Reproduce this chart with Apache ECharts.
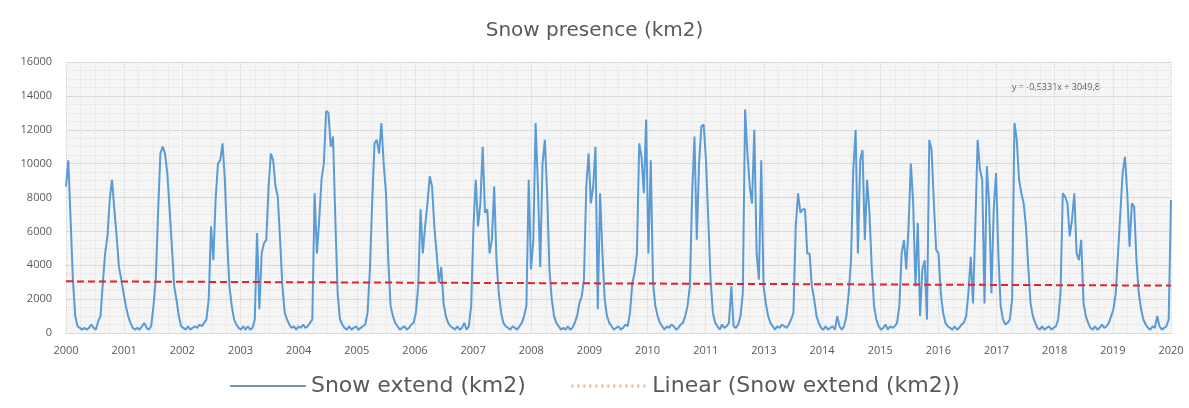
<!DOCTYPE html>
<html>
<head>
<meta charset="utf-8">
<script src="https://cdn.jsdelivr.net/npm/echarts@6/dist/echarts.min.js"></script>
<style>html,body{margin:0;padding:0;background:#fff}#c{width:1189px;height:408px}</style>
</head>
<body>
<div id="c"></div>
<script>
// Tick labels as printed on the original axis (2012 is absent there)
const tickLabels = ['2000','2001','2002','2003','2004','2005','2006','2007','2008','2009','2010','2011','2013','2014','2015','2016','2017','2018','2019','2020'];
// Snow extent readings, evenly sampled in time (24 samples per twentieth of the span)
const y2000 = [8650,10200,6700,3150,1000,400,300,200,300,200,300,500,300,200,700,1000,2950,4700,5700,7900,9050,7300,5700,3900];
const y2001 = [3150,2350,1600,1000,600,300,200,300,200,400,600,300,200,400,1600,3150,7100,10600,11000,10600,9450,7300,5100,2750];
const y2002 = [1950,1000,400,300,200,400,200,300,400,300,500,400,600,800,2000,6300,4300,7900,10000,10200,11200,9050,5500,2750];
const y2003 = [1600,800,500,300,200,400,200,400,200,300,800,5900,1400,4700,5300,5500,8650,10600,10200,8650,8050,5500,2750,1200];
const y2004 = [800,500,300,400,200,400,300,500,300,400,600,800,8250,4700,6700,9050,10000,13100,13000,11000,11600,6700,2350,800];
const y2005 = [500,300,200,400,200,300,400,200,300,400,500,1200,3750,7650,11200,11400,10600,12400,10000,8250,4300,1600,1000,600];
const y2006 = [400,200,300,400,200,300,500,600,1200,2750,7300,4700,6300,7650,9250,8650,6300,4700,2950,3900,1750,1000,600,400];
const y2007 = [300,200,400,200,300,600,200,400,1600,6300,9050,6300,7650,11000,7100,7300,4700,5500,8650,4300,2350,1200,600,400];
const y2008 = [300,200,400,300,200,400,600,1000,1600,9050,3750,5500,12400,8650,3900,10000,11400,8250,3750,2000,1000,600,400,200];
const y2009 = [300,200,400,200,300,600,1000,1750,2150,3150,8650,10600,7650,8650,11000,1400,8250,4700,2000,1000,600,400,200,300];
const y2010 = [400,200,300,500,400,1200,2950,3550,4700,11200,10400,8250,12600,4700,10200,2950,1600,1000,600,400,200,400,300,500];
const y2011 = [400,200,300,500,600,1000,1600,2750,8250,11600,5500,10000,12200,12300,10200,6700,3150,1200,600,400,200,500,300,400];
const y2012 = [600,2750,400,300,500,1000,2350,13200,10600,8650,7650,12000,4700,3150,10200,2750,1750,1000,600,400,200,400,300,500];
const y2013 = [400,300,500,800,1200,6300,8250,7100,7300,7300,4700,4700,2750,2000,1000,600,300,200,400,200,300,400,200,1000];
const y2014 = [400,200,400,1000,2350,4300,9650,12000,4700,10200,10800,5500,9050,7100,3900,1600,800,400,200,300,500,200,400,300];
const y2015 = [400,600,1600,4700,5500,3750,6300,10000,7650,2750,6500,1000,3750,4300,800,11400,10800,7650,4900,4700,2350,1200,600,400];
const y2016 = [300,200,400,200,300,500,600,1000,2350,4500,1750,6300,11400,9650,9050,1750,9850,7650,2350,7300,9450,4700,1600,800];
const y2017 = [500,600,800,2000,12400,11400,9050,8250,7650,6300,3900,1750,1000,600,300,200,400,200,300,400,200,300,400,800];
const y2018 = [2350,8250,8050,7650,5700,6700,8250,4700,4300,5500,1750,1000,600,300,200,400,200,300,500,300,400,600,1000,1400];
const y2019 = [2350,4700,7100,9450,10400,8250,5100,7650,7450,4300,2350,1400,800,500,300,200,400,300,1000,400,200,300,400,800];
const yEnd = [7850];
// Linear trend read at the start and end of the series
const trendValues = [3050, 2800];

const seriesName = 'Snow extend (km2)';
const trendName = 'Linear (Snow extend (km2))';

const allValues = [].concat(y2000,y2001,y2002,y2003,y2004,y2005,y2006,y2007,y2008,y2009,
  y2010,y2011,y2012,y2013,y2014,y2015,y2016,y2017,y2018,y2019,yEnd);
const nIntervals = tickLabels.length - 1;
const step = nIntervals / (allValues.length - 1);
const lineData = allValues.map((v, i) => [i * step, v]);
const trendData = [[0, trendValues[0]], [nIntervals, trendValues[1]]];

const chart = echarts.init(document.getElementById('c'), null, {renderer: 'canvas'});
const font = 'Open Sans, Noto Sans, sans-serif';
const bigFont = 'DejaVu Sans, Open Sans, sans-serif';
chart.setOption({
  animation: false,
  backgroundColor: '#ffffff',
  title: {
    text: 'Snow presence (km2)',
    left: 'center', top: 16,
    textStyle: {fontFamily: bigFont, fontSize: 20, fontWeight: 'normal', color: '#595959'}
  },
  legend: {
    bottom: 6, left: 'center',
    itemWidth: 76, itemHeight: 14, itemGap: 44,
    textStyle: {fontFamily: bigFont, fontSize: 22, color: '#595959'},
    data: [
      {name: seriesName, lineStyle: {color: '#4a6c95', width: 1.5}, itemStyle: {opacity: 0, color: 'transparent', borderWidth: 0}},
      {name: trendName, lineStyle: {color: '#f4b183', width: 3, type: [2, 4]}, itemStyle: {opacity: 0, color: 'transparent', borderWidth: 0}}
    ]
  },
  grid: {left: 66, right: 18, top: 62, bottom: 75, show: true, backgroundColor: '#f5f5f5', borderWidth: 0},
  xAxis: {
    type: 'value', min: 0, max: nIntervals, interval: 1,
    axisLine: {show: true, lineStyle: {color: '#d9d9d9'}},
    axisTick: {show: false},
    axisLabel: {
      fontFamily: font, fontSize: 11, color: '#595959', margin: 12,
      formatter: v => tickLabels[Math.round(v)]
    },
    splitLine: {show: true, lineStyle: {color: '#d4d4d4', type: 'dotted'}},
    minorTick: {show: false, splitNumber: 4},
    minorSplitLine: {show: true, lineStyle: {color: '#e2e2e2', type: 'dotted'}}
  },
  yAxis: {
    type: 'value', min: 0, max: 16000, interval: 2000,
    axisLine: {show: false}, axisTick: {show: false},
    axisLabel: {fontFamily: font, fontSize: 11, color: '#595959', margin: 14, formatter: v => String(v)},
    splitLine: {show: true, lineStyle: {color: '#d9d9d9', type: 'solid'}},
    minorTick: {show: false, splitNumber: 4},
    minorSplitLine: {show: true, lineStyle: {color: '#e2e2e2', type: 'dotted'}}
  },
  graphic: [{
    type: 'text', left: 1012, top: 83,
    style: {text: 'y = -0,5331x + 3049,8', fontFamily: font, fontSize: 9, fill: '#595959'}
  }],
  series: [
    {
      name: seriesName, type: 'line', data: lineData,
      symbol: 'none', showSymbol: false,
      lineStyle: {color: '#5b9bd5', width: 2},
      itemStyle: {color: '#5b9bd5'},
      z: 2
    },
    {
      name: trendName, type: 'line', data: trendData,
      symbol: 'none', showSymbol: false,
      lineStyle: {color: '#e8202a', width: 2, type: [7, 4]},
      itemStyle: {color: '#f4b183'},
      z: 3
    }
  ]
});
</script>
</body>
</html>
